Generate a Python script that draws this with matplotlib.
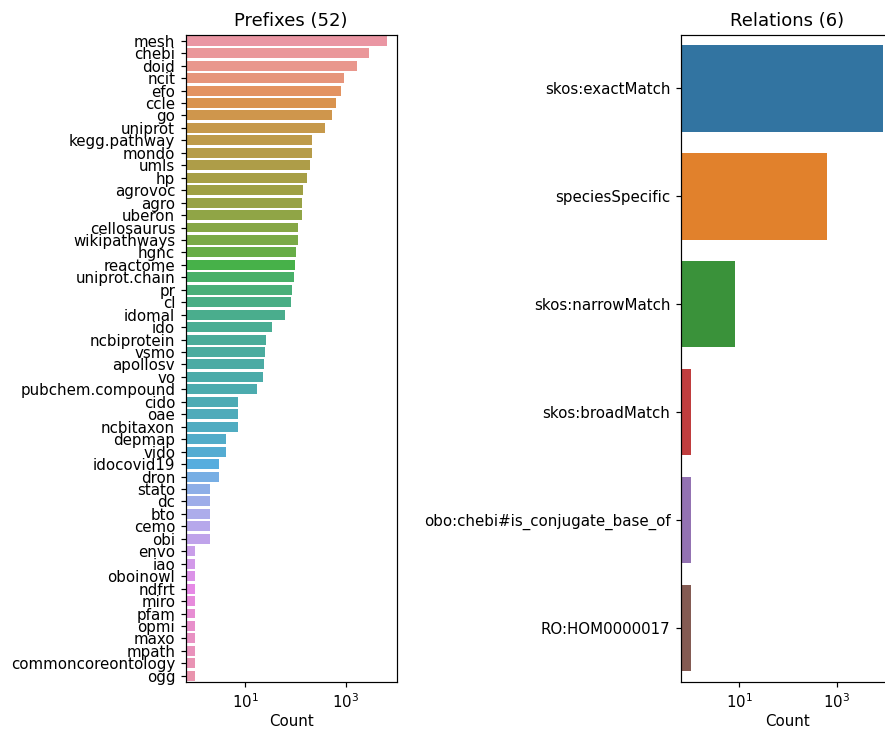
import matplotlib
matplotlib.use("Agg")
import matplotlib.pyplot as plt
import seaborn as sns
import numpy as np

prefixes = ["mesh", "chebi", "doid", "ncit", "efo", "ccle", "go", "uniprot",
            "kegg.pathway", "mondo", "umls", "hp", "agrovoc", "agro", "uberon",
            "cellosaurus", "wikipathways", "hgnc", "reactome", "uniprot.chain",
            "pr", "cl", "idomal", "ido", "ncbiprotein", "vsmo", "apollosv", "vo",
            "pubchem.compound", "cido", "oae", "ncbitaxon", "depmap", "vido",
            "idocovid19", "dron", "stato", "dc", "bto", "cemo", "obi", "envo",
            "iao", "oboinowl", "ndfrt", "miro", "pfam", "opmi", "maxo", "mpath",
            "commoncoreontology", "ogg"]
prefix_counts = [6620, 2910, 1680, 927, 808, 643, 535, 389,
                 214, 214, 195, 171, 142, 136, 136,
                 113, 113, 103, 98, 94,
                 86, 82, 60, 33, 26, 25, 23, 22,
                 17, 7, 7, 7, 4, 4,
                 3, 3, 2, 2, 2, 2, 2, 1,
                 1, 1, 1, 1, 1, 1, 1, 1,
                 1, 1]

relations = ["skos:exactMatch", "speciesSpecific", "skos:narrowMatch",
             "skos:broadMatch", "obo:chebi#is_conjugate_base_of", "RO:HOM0000017"]
relation_counts = [9000, 634, 8, 1, 1, 1]

W, H = 885, 732
DPI = 108
fig = plt.figure(figsize=(W / DPI, H / DPI), dpi=DPI)

top, bottom = 34.5, 682.0
ax1 = fig.add_axes([185.7 / W, (H - bottom) / H, 211 / W, (bottom - top) / H])
ax2 = fig.add_axes([681.0 / W, (H - bottom) / H, 212 / W, (bottom - top) / H])

left_colors = [sns.desaturate(c, 0.75) for c in sns.husl_palette(len(prefixes), l=.7)]
right_colors = [sns.desaturate(c, 0.75) for c in sns.color_palette("tab10", len(relations))]

def draw(ax, labels, values, colors, title):
    y = np.arange(len(labels))
    ax.barh(y, values, height=0.8, color=colors)
    ax.set_xscale("log")
    ax.set_yticks(y)
    ax.set_yticklabels(labels)
    ax.set_ylim(len(labels) - 0.5, -0.5)
    ax.set_xlabel("Count", labelpad=2)
    ax.set_title(title)
    ax.xaxis.set_major_locator(matplotlib.ticker.LogLocator(base=100.0, subs=(0.1,), numticks=10))
    ax.xaxis.set_minor_locator(matplotlib.ticker.NullLocator())

draw(ax1, prefixes, prefix_counts, left_colors, "Prefixes (52)")
draw(ax2, relations, relation_counts, right_colors, "Relations (6)")

fig.savefig("out.png", dpi=DPI)
